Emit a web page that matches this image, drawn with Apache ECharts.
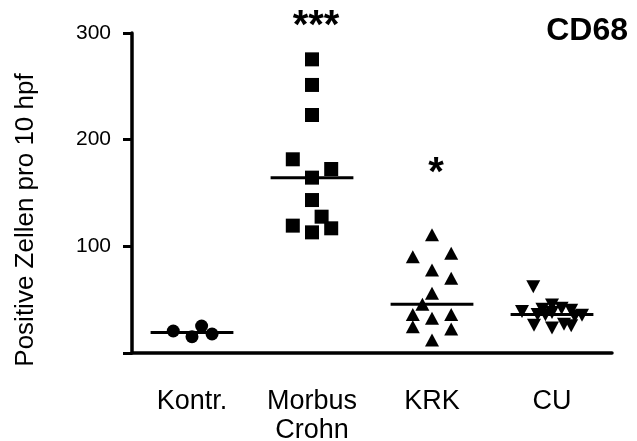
<!DOCTYPE html>
<html>
<head>
<meta charset="utf-8">
<script src="https://cdn.jsdelivr.net/npm/echarts@6/dist/echarts.min.js"></script>
<style>
  html, body { margin: 0; padding: 0; background: #fff; }
  #chart { width: 637px; height: 441px; }
</style>
</head>
<body>
<div id="chart"></div>
<script>
// Groups on the x axis
const categories = ['Kontr.', 'Morbus\nCrohn', 'KRK', 'CU'];

// Positive cells per 10 hpf, one value per patient
const kontrValues  = [20.6, 15.3, 25.3, 17.8];
const crohnValues  = [275.3, 251.3, 223.1, 181.6, 172.5, 164.4, 143.4, 127.8, 119.4, 116.9, 113.1];
const krkValues    = [110.9, 90.3, 93.4, 77.8, 70.0, 55.9, 45.6, 36.2, 36.2, 32.5, 24.7, 22.5, 12.2];
const cuValues     = [62, 39, 45, 36, 41, 42, 40, 38, 34.5, 35.5, 26, 23.5, 27, 25.5, 35.8];

// Horizontal spread of overlapping points (fraction of a category band)
const kontrJitter = [-0.156, 0, 0.08, 0.167];
const crohnJitter = [0, 0, 0, -0.16, 0.16, 0, 0, 0.08, -0.16, 0.16, 0];
const krkJitter   = [0, -0.16, 0.16, 0, 0.16, 0, -0.08, -0.16, 0.16, 0, -0.16, 0.16, 0];
const cuJitter    = [-0.156, -0.25, 0, -0.12, -0.08, 0.08, 0.16, 0, 0.19, 0.25, -0.15, 0, 0.10, 0.16, -0.055];

// Y axis ticks
const yTicks = [0, 100, 200, 300];
const yTitle = 'Positive Zellen pro 10 hpf';

// Significance marks above groups
const sigLabels = ['', '***', '*', ''];
const sigLevels = [null, 306, 168, null];

const groups = [
  { values: kontrValues, jitter: kontrJitter, symbol: 'circle', size: 13, rotate: 0 },
  { values: crohnValues, jitter: crohnJitter, symbol: 'rect', size: 14, rotate: 0 },
  { values: krkValues,   jitter: krkJitter,   symbol: 'triangle', size: [14, 13], rotate: 0 },
  { values: cuValues,    jitter: cuJitter,    symbol: 'triangle', size: [14, 13], rotate: 180 }
];

function median(arr) {
  const s = arr.slice().sort((a, b) => a - b);
  const m = Math.floor(s.length / 2);
  return s.length % 2 ? s[m] : (s[m - 1] + s[m]) / 2;
}

const FONT = 'Liberation Sans, Arial, Helvetica, sans-serif';
const series = [];

groups.forEach((g, i) => {
  series.push({
    type: 'scatter',
    xAxisIndex: 1,
    symbol: g.symbol,
    symbolSize: g.size,
    symbolRotate: g.rotate,
    itemStyle: { color: '#000', opacity: 1 },
    z: 3,
    data: g.values.map((v, k) => [i + g.jitter[k], v])
  });
  const med = median(g.values);
  series.push({
    type: 'line',
    xAxisIndex: 1,
    symbol: 'none',
    lineStyle: { color: '#000', width: 3 },
    z: 4,
    data: [[i - 0.345, med], [i + 0.345, med]]
  });
});

series.push({
  type: 'scatter',
  xAxisIndex: 1,
  symbolSize: 0,
  clip: false,
  silent: true,
  itemStyle: { color: '#000', opacity: 1 },
  label: {
    show: true,
    position: 'inside',
    offset: [4, 0],
    formatter: p => sigLabels[p.data[0]],
    color: '#000',
    opacity: 1,
    fontFamily: FONT,
    fontWeight: 'bold',
    fontSize: 40
  },
  data: sigLevels.map((v, i) => v == null ? null : [i, v]).filter(d => d)
});

const chart = echarts.init(document.getElementById('chart'));
chart.setOption({
  animation: false,
  backgroundColor: '#fff',
  grid: { left: 132, right: 25, top: 33, bottom: 88, outerBoundsMode: 'none' },
  title: {
    text: 'CD68',
    right: 4,
    top: 10,
    textStyle: { fontFamily: FONT, fontWeight: 'bold', fontSize: 32, color: '#000' }
  },
  graphic: [{
    type: 'text',
    x: 26,
    y: 220,
    rotation: Math.PI / 2,
    style: {
      text: yTitle,
      fill: '#000',
      font: '26px ' + FONT,
      align: 'center',
      verticalAlign: 'middle'
    }
  }],
  xAxis: [
    {
      type: 'category',
      data: categories,
      boundaryGap: true,
      axisLine: { onZero: false, lineStyle: { color: '#000', width: 3.5 } },
      axisTick: { alignWithLabel: true, length: 9, lineStyle: { color: '#000', width: 3 } },
      axisLabel: {
        color: '#000', fontFamily: FONT, fontSize: 27, margin: 34, lineHeight: 29,
        interval: 0
      }
    },
    { type: 'value', min: -0.5, max: 3.5, show: false }
  ],
  yAxis: {
    type: 'value',
    min: yTicks[0],
    max: yTicks[yTicks.length - 1],
    interval: yTicks[1] - yTicks[0],
    axisLine: { show: true, onZero: false, lineStyle: { color: '#000', width: 3.5 } },
    axisTick: { show: true, length: 9, lineStyle: { color: '#000', width: 3 } },
    splitLine: { show: false },
    axisLabel: {
      color: '#000', fontFamily: FONT, fontSize: 21, margin: 21,
      formatter: v => (v === 0 ? '' : String(v))
    }
  },
  series: series
});
</script>
</body>
</html>
